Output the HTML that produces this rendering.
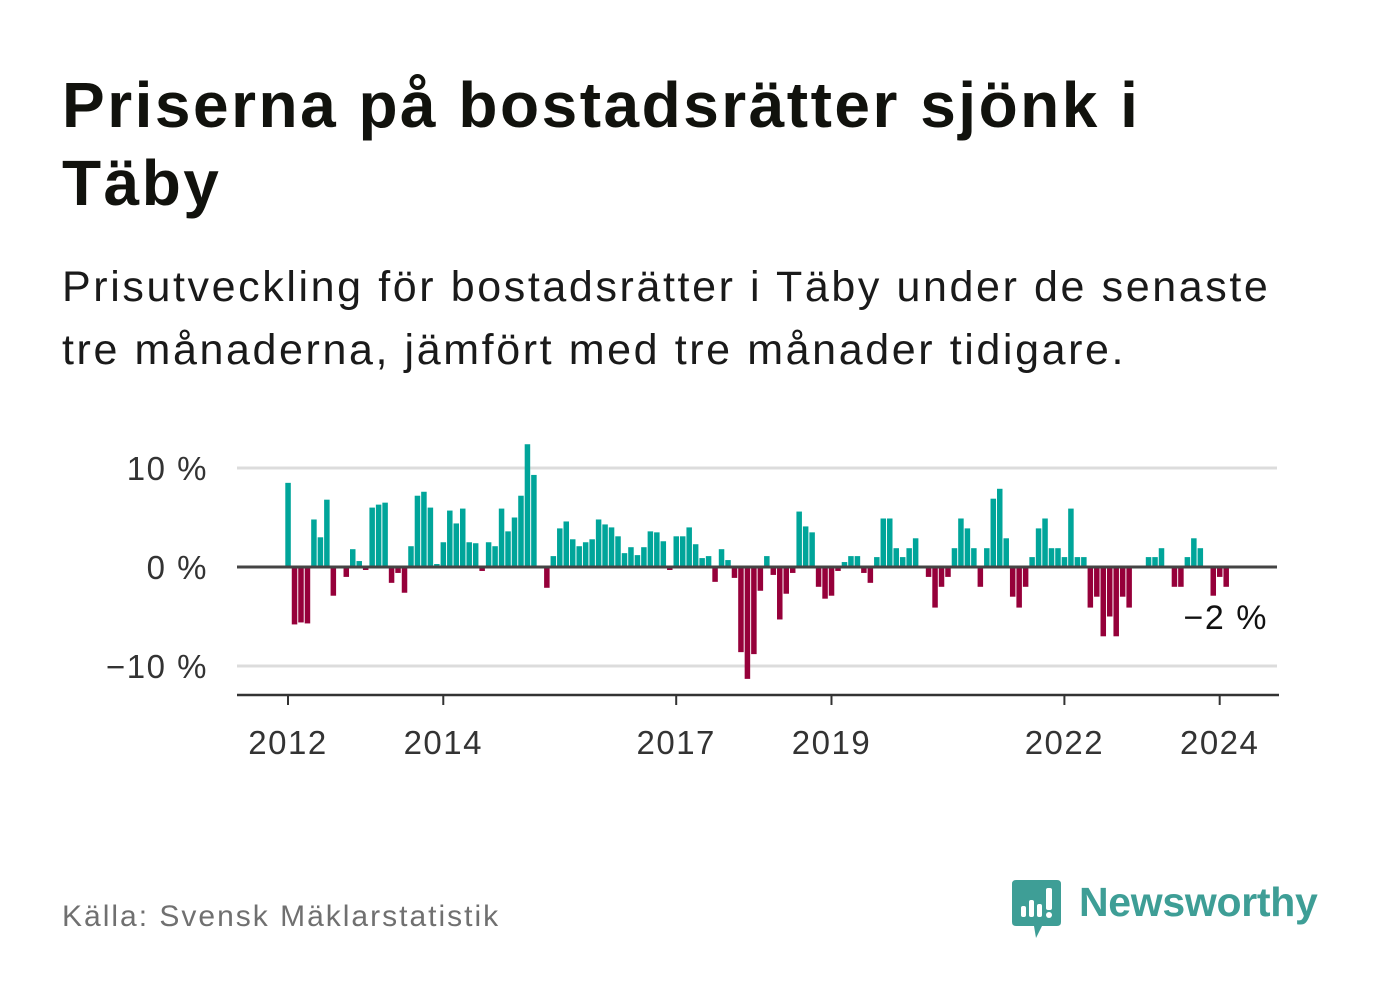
<!DOCTYPE html>
<html><head><meta charset="utf-8">
<style>
html,body{margin:0;padding:0;background:#fff;}
body{width:1382px;height:999px;overflow:hidden;position:relative;font-family:"Liberation Sans",sans-serif;}
.t{position:absolute;left:62px;margin:0;white-space:nowrap;}
</style></head>
<body>
<h1 class="t" style="top:66px;font-size:64px;line-height:78px;font-weight:bold;color:#11120d;letter-spacing:2.5px">Priserna på bostadsrätter sjönk i<br>Täby</h1>
<p class="t" style="top:256px;font-size:43px;line-height:63px;color:#1a1a1a;letter-spacing:2.6px">Prisutveckling för bostadsrätter i Täby under de senaste<br>tre månaderna, jämfört med tre månader tidigare.</p>
<svg id="chart" width="1382" height="999" style="position:absolute;left:0;top:0" xmlns="http://www.w3.org/2000/svg"></svg>
<p class="t" style="top:900px;font-size:30px;color:#707070;letter-spacing:2px">Källa: Svensk Mäklarstatistik</p>
<div style="position:absolute;left:1012px;top:880px;width:310px;height:60px">
<svg width="52" height="60" style="position:absolute;left:0;top:0">
<path d="M4 0 H45 Q49 0 49 4 V42 Q49 46 45 46 H30 L24 58 L22 46 H4 Q0 46 0 42 V4 Q0 0 4 0 Z" fill="#3e9e96"/>
<rect x="9" y="26" width="5" height="11" rx="2" fill="#fff"/><rect x="17" y="20" width="5" height="17" rx="2" fill="#fff"/><rect x="25" y="24" width="5" height="13" rx="2" fill="#fff"/><rect x="34" y="8" width="6" height="22" rx="2" fill="#fff"/><circle cx="37" cy="35" r="3" fill="#fff"/>
</svg>
<span style="position:absolute;left:67px;top:-1px;font-size:41px;font-weight:bold;color:#3e9e96;letter-spacing:-0.3px">Newsworthy</span>
</div>
<script>
const values=[8.5,-5.8,-5.6,-5.7,4.8,3.0,6.8,-2.9,0,-1.0,1.8,0.6,-0.3,6.0,6.3,6.5,-1.6,-0.6,-2.6,2.1,7.2,7.6,6.0,0.3,
2.5,5.7,4.4,5.9,2.5,2.4,-0.4,2.5,2.1,5.9,3.6,5.0,7.2,12.4,9.3,0,-2.1,1.1,3.9,4.6,2.8,2.1,2.5,2.8,
4.8,4.3,4.0,3.1,1.4,2.0,1.2,2.0,3.6,3.5,2.6,-0.3,3.1,3.1,4.0,2.3,0.9,1.1,-1.5,1.8,0.7,-1.1,-8.6,-11.3,
-8.8,-2.4,1.1,-0.8,-5.3,-2.7,-0.6,5.6,4.1,3.5,-2.0,-3.2,-2.9,-0.4,0.5,1.1,1.1,-0.6,-1.6,1.0,4.9,4.9,
1.9,1.0,1.9,2.9,0,-1.0,-4.1,-2.0,-1.0,1.9,4.9,3.9,1.9,-2.0,1.9,6.9,7.9,2.9,-3.0,-4.1,-2.0,1.0,3.9,4.9,
1.9,1.9,1.0,5.9,1.0,1.0,-4.1,-3.0,-7.0,-5.0,-7.0,-3.0,-4.1,0,0,1.0,1.0,1.9,0,-2.0,-2.0,1.0,2.9,1.9,0,-2.9,-1.0,-2.0];
const startYear=2012;
const yTicks=[10,0,-10];
const yTickLabels=["10 %","0 %","\u221210 %"];
const xTickYears=[2012,2014,2017,2019,2022,2024];
const lastLabel="\u22122 %";

const svg=document.getElementById('chart');
const NS='http://www.w3.org/2000/svg';
const x0=288, pitch=6.47, y0=567, ppu=9.9;
const xs=m=>x0+pitch*m;
const ys=v=>y0-v*ppu;
function mk(t,a){const e=document.createElementNS(NS,t);for(const k in a)e.setAttribute(k,a[k]);svg.appendChild(e);return e;}
yTicks.forEach((v,i)=>{
  if(v!==0){const g=mk('line',{x1:237,x2:1277,y1:ys(v),y2:ys(v),stroke:'#dcdcdc','stroke-width':3});
  
  }
  const t=mk('text',{x:208,y:ys(v)+12,'text-anchor':'end','font-size':33,fill:'#333','font-family':'Liberation Sans, sans-serif','letter-spacing':1.5});
  t.textContent=yTickLabels[i];
  
  
});
values.forEach((v,m)=>{
  if(v===0)return;
  const r=mk('rect',{x:xs(m)-2.7,width:5.5,y:v>0?ys(v):y0,height:Math.abs(v)*ppu,fill:v>0?'#00a59a':'#96003a'});
  
  
});
const z=mk('line',{x1:237,x2:1277,y1:y0,y2:y0,stroke:'#444','stroke-width':3});


const ax=mk('line',{x1:237,x2:1279,y1:695,y2:695,stroke:'#333','stroke-width':2.5});


xTickYears.forEach(yr=>{
  const x=xs((yr-startYear)*12);
  const tk=mk('line',{x1:x,x2:x,y1:695,y2:705,stroke:'#333','stroke-width':2});
  
  
  const t=mk('text',{x:x,y:754,'text-anchor':'middle','font-size':33,fill:'#333','font-family':'Liberation Sans, sans-serif','letter-spacing':1.5});
  t.textContent=yr;
  
  
});
const lt=mk('text',{x:1268,y:629,'text-anchor':'end','font-size':34,fill:'#111','font-family':'Liberation Sans, sans-serif','letter-spacing':1.5});
lt.textContent=lastLabel;


</script>
</body></html>
